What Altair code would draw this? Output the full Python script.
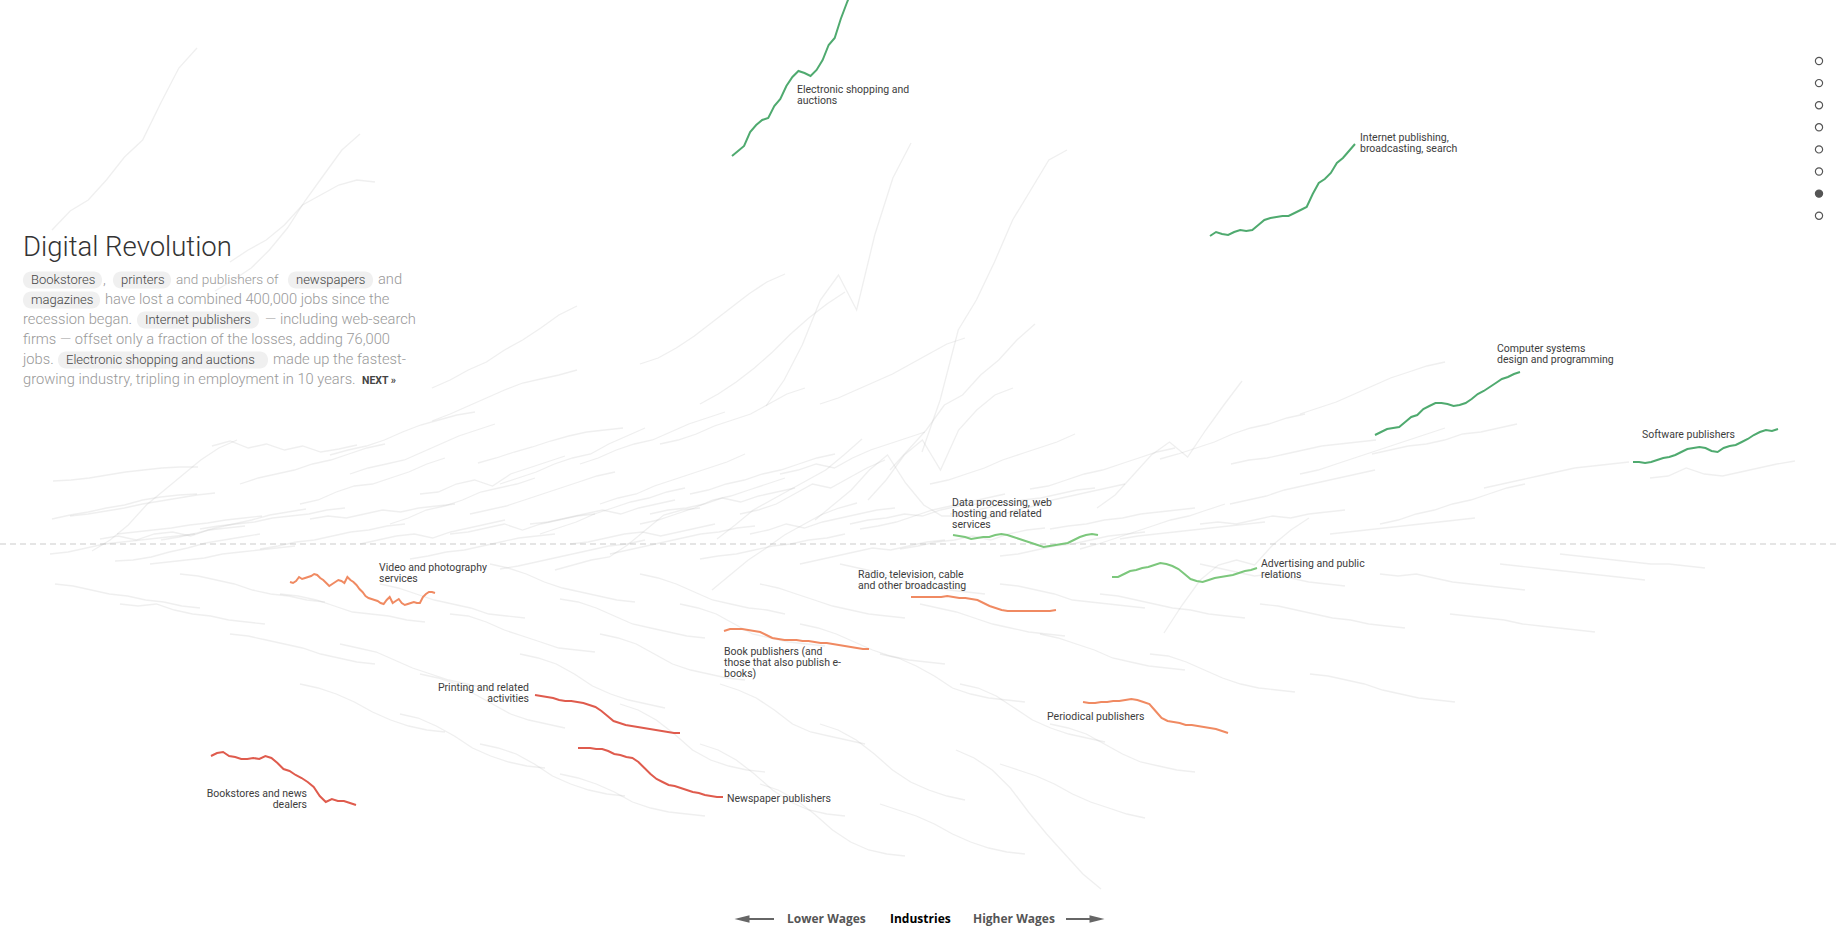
import altair as alt
import pandas as pd

# Each sparkline covers 2004-2014 and is drawn across a fixed stretch of the wage axis
SPAN = 145
W, H = 1839, 939
X_DOMAIN = [0, 1839]          # wage position (low -> high)
Y_DOMAIN = [-395, 544]        # employment change index (0 = dashed line)

# ---------------- highlighted industries (values = employment change index) ----------
electronic_shopping = [388, 393, 398, 412, 419, 424, 426, 438, 445, 458, 467, 473, 471,
                       468, 474, 484, 499, 506, 525, 541, 556, 569, 584, 596, 609]
internet_publishing = [308, 312, 310, 309, 312, 314, 313, 314, 319, 324, 326, 327, 328,
                       328, 331, 334, 337, 350, 361, 365, 371, 381, 386, 393, 400]
computer_systems = [109, 112, 115, 116, 117, 122, 127, 129, 135, 138, 141, 141, 140,
                    138, 139, 141, 145, 150, 153, 157, 161, 165, 167, 170, 172]
software_publishers = [82, 82, 81, 82, 84, 86, 87, 89, 92, 95, 96, 97, 96,
                       93, 92, 96, 98, 99, 102, 105, 109, 112, 114, 113, 115]
data_processing = [9, 8, 7, 5, 6, 7, 7, 9, 10, 9, 7, 5, 3, 1, -1, -3, -2, -1, 0, 1, 4, 7, 9, 10, 9]
advertising = [-33, -33, -30, -27, -26, -24, -23, -21, -19, -20, -22, -25, -30,
               -35, -37, -38, -36, -34, -33, -32, -31, -29, -27, -26, -24]
radio_tv = [-53, -53, -53, -53, -53, -53, -52, -53, -54, -54, -55, -56, -59,
            -62, -64, -66, -67, -67, -67, -67, -67, -67, -67, -67, -66]
video_photo = [-38, -39, -37, -33, -35, -34, -33, -32, -30, -31, -34, -36, -39, -42, -40, -38, -36,
               -37, -39, -33, -36, -38, -41, -45, -48, -52, -54, -55, -56, -57, -59, -60, -56,
               -53, -59, -57, -55, -59, -61, -60, -59, -58, -59, -59, -53, -50, -48, -48, -49]
book_publishers = [-87, -85, -85, -85, -86, -87, -88, -91, -94, -95, -96, -96, -96,
                   -97, -97, -98, -99, -99, -100, -101, -102, -103, -104, -105, -105]
printing = [-151, -152, -153, -154, -156, -157, -157, -158, -159, -161, -163, -167, -172,
            -177, -179, -181, -182, -183, -184, -185, -186, -187, -188, -189, -189]
newspapers = [-204, -204, -204, -205, -205, -207, -210, -211, -213, -214, -218, -224, -230,
              -235, -238, -241, -242, -244, -246, -248, -249, -251, -252, -253, -253]
bookstores = [-212, -209, -208, -212, -213, -215, -215, -214, -215, -212, -214, -219, -225,
              -227, -231, -234, -238, -243, -252, -258, -255, -257, -257, -259, -261]
periodicals = [-158, -159, -159, -158, -158, -157, -157, -156, -155, -156, -158, -160, -167,
               -174, -177, -178, -179, -181, -181, -182, -183, -184, -185, -187, -189]

highlight_names = ["Electronic shopping and auctions", "Internet publishing, broadcasting, search",
                   "Computer systems design and programming", "Software publishers",
                   "Data processing, web hosting and related services", "Advertising and public relations",
                   "Radio, television, cable and other broadcasting", "Video and photography services",
                   "Book publishers (and those that also publish e-books)", "Printing and related activities",
                   "Newspaper publishers", "Bookstores and news dealers", "Periodical publishers"]
highlight_wage = [732, 1210, 1375, 1633, 953, 1112, 911, 290, 724, 535, 578, 211, 1083]
highlight_series = [electronic_shopping, internet_publishing, computer_systems, software_publishers,
                    data_processing, advertising, radio_tv, video_photo, book_publishers, printing,
                    newspapers, bookstores, periodicals]
highlight_group = ["big gain", "big gain", "big gain", "big gain", "gain", "gain",
                   "loss", "loss", "loss", "big loss", "big loss", "big loss", "loss"]
label_lines = [["Electronic shopping and", "auctions"], ["Internet publishing,", "broadcasting, search"],
               ["Computer systems", "design and programming"], ["Software publishers"],
               ["Data processing, web", "hosting and related", "services"], ["Advertising and public", "relations"],
               ["Radio, television, cable", "and other broadcasting"], ["Video and photography", "services"],
               ["Book publishers (and", "those that also publish e-", "books)"], ["Printing and related", "activities"],
               ["Newspaper publishers"], ["Bookstores and news", "dealers"], ["Periodical publishers"]]
label_wage = [797, 1360, 1497, 1642, 952, 1261, 858, 379, 724, 529, 727, 307, 1047]
label_change = [454, 406, 195, 109, 41, -20, -31, -24, -108, -144, -255, -250, -173]
label_align = ["left"] * 9 + ["right", "left", "right", "left"]

# ---------------- other industries (grey) ----------------
grey_wage = [52, 215, 230, 432, 766, 922, 890, 868, 815, 1097, 1164, 717, 555, 712, 53, 70, 117, 52,
             92, 115, 161, 432, 478, 212, 330,
             240, 300, 350, 390, 420, 470, 500, 540, 580, 600, 640, 660, 690, 740, 780, 820, 860, 930,
             980, 1030, 1080, 1160, 1230, 1300, 1380, 1484, 1650, 1372, 1231,
             50, 100, 150, 200, 260, 310, 360, 410, 450, 500, 530, 570, 610, 650, 700, 750, 800, 850,
             900, 950, 1000, 1050, 1120, 1200, 1330,
             55, 120, 180, 230, 280, 340, 380, 420, 450, 490, 520, 560, 600, 640, 680, 720, 760, 800,
             840, 880, 920, 960, 1000, 1040, 1100, 1150, 1200, 1260, 1310, 1380, 1450, 1500, 1560,
             956, 1000, 880, 820, 1050, 620, 700, 400, 300, 480, 760, 560,
             640, 700, 1300]
grey_values = [
    [314, 333, 344, 364, 387, 404, 441, 476, 496], [253, 264, 276, 294, 316, 344, 369, 394, 410],
    [282, 294, 304, 319, 339, 349, 359, 364, 362], [156, 164, 174, 182, 194, 204, 216, 229, 238],
    [138, 164, 199, 244, 269, 234, 309, 366, 401], [92, 144, 214, 244, 282, 324, 354, 384, 394],
    [74, 94, 114, 139, 149, 169, 184, 204, 220], [44, 64, 89, 104, 74, 114, 134, 149, 156],
    [24, 39, 54, 74, 89, 61, 39, 28, 28], [36, 49, 69, 89, 102, 87, 114, 139, 163],
    [-89, -61, -36, -21, -16, -21, -1, 14, 26], [5, 19, 34, 44, 54, 64, 74, 89, 105],
    [-26, -21, -16, -13, -1, 14, 29, 34, 36], [-46, -31, -16, -4, 9, 19, 29, 36, 41],
    [63, 64, 66, 69, 72, 74, 76, 77, 77], [28, 30, 33, 36, 40, 43, 46, 49, 51],
    [10, 12, 14, 16, 19, 21, 24, 26, 28], [25, 29, 32, 36, 39, 44, 47, 49, 50],
    [-7, 4, 19, 39, 54, 69, 84, 96, 104], [-17, -16, -13, -8, -4, 1, 4, 7, 10],
    [4, 7, 11, 16, 20, 24, 29, 32, 35], [123, 130, 138, 146, 154, 161, 165, 169, 174],
    [81, 86, 92, 97, 103, 108, 112, 114, 116], [98, 103, 96, 100, 94, 98, 92, 95, 99],
    [89, 94, 98, 104, 112, 119, 124, 129, 132],
    [60, 66, 70, 74, 80, 84, 90, 96, 100], [40, 44, 52, 58, 60, 66, 72, 80, 86],
    [70, 76, 80, 84, 92, 100, 108, 114, 120], [20, 26, 34, 38, 44, 52, 56, 60, 66],
    [50, 52, 60, 64, 58, 70, 76, 82, 88], [30, 34, 38, 44, 50, 56, 62, 68, 72],
    [60, 66, 72, 80, 86, 90, 100, 108, 116], [10, 16, 22, 30, 36, 42, 46, 52, 56],
    [80, 86, 94, 100, 104, 112, 120, 126, 132], [40, 46, 50, 58, 64, 70, 76, 82, 90],
    [20, 24, 30, 36, 44, 48, 54, 60, 66], [100, 104, 110, 118, 124, 130, 140, 150, 156],
    [50, 54, 60, 64, 70, 74, 80, 86, 90], [30, 34, 40, 50, 60, 56, 66, 76, 84],
    [70, 74, 80, 76, 86, 94, 100, 106, 112], [140, 146, 154, 162, 170, 180, 190, 200, 206],
    [15, 18, 22, 28, 34, 38, 42, 46, 50], [60, 64, 70, 76, 84, 90, 96, 102, 110],
    [25, 28, 34, 38, 44, 48, 52, 56, 60], [55, 58, 64, 70, 74, 80, 86, 92, 96],
    [-5, 0, 6, 12, 18, 24, 28, 34, 40], [85, 90, 96, 102, 110, 116, 120, 126, 130],
    [40, 44, 48, 54, 58, 62, 66, 70, 74], [70, 74, 80, 86, 92, 98, 104, 110, 116],
    [20, 24, 30, 34, 40, 44, 50, 56, 60], [56, 60, 64, 68, 72, 76, 78, 80, 82],
    [66, 68, 76, 70, 68, 72, 76, 80, 83], [90, 94, 98, 100, 104, 110, 112, 116, 120],
    [80, 84, 86, 90, 94, 98, 100, 102, 104],
    [-10, -8, -4, 0, 2, 4, 6, 8, 10], [5, 8, 4, 10, 12, 8, 14, 16, 18],
    [-20, -18, -16, -14, -10, -8, -6, -4, -2], [15, 18, 20, 22, 26, 28, 30, 34, 36],
    [-5, -2, 2, 4, 8, 12, 14, 18, 20], [25, 28, 26, 30, 34, 32, 36, 38, 40],
    [0, 4, 8, 10, 6, 12, 16, 20, 24], [-15, -12, -8, -6, -2, 2, 6, 8, 10],
    [10, 12, 16, 20, 14, 20, 24, 28, 30], [-25, -22, -18, -14, -10, -6, -2, 0, 4],
    [20, 22, 26, 30, 34, 30, 36, 40, 44], [0, 2, 6, 10, 12, 8, 12, 16, 20],
    [-10, -6, -2, 2, 6, 10, 12, 16, 18], [30, 34, 36, 40, 46, 42, 48, 52, 56],
    [-15, -12, -10, -6, -2, 0, 4, 6, 10], [10, 14, 20, 16, 22, 26, 30, 34, 36],
    [-20, -16, -12, -8, -4, -6, -2, 2, 4], [20, 24, 26, 30, 28, 34, 38, 40, 44],
    [-5, -2, 2, 4, 8, 4, 10, 14, 16], [30, 32, 36, 40, 44, 46, 50, 54, 56],
    [-12, -10, -6, -2, 0, 4, 8, 10, 12], [15, 18, 20, 24, 26, 30, 32, 34, 36],
    [5, 8, 10, 12, 14, 16, 18, 20, 22], [20, 22, 20, 24, 28, 26, 30, 32, 34],
    [10, 12, 14, 16, 18, 20, 22, 24, 26],
    [-40, -42, -46, -50, -52, -56, -58, -62, -64], [-60, -62, -60, -66, -70, -72, -76, -78, -80],
    [-30, -32, -36, -40, -46, -50, -52, -56, -58], [-90, -92, -96, -100, -104, -110, -114, -118, -120],
    [-50, -52, -56, -62, -68, -70, -72, -76, -78], [-100, -104, -108, -116, -124, -130, -136, -140, -144],
    [-40, -44, -50, -56, -60, -64, -70, -72, -74], [-130, -134, -140, -150, -160, -170, -176, -180, -184],
    [-70, -72, -78, -86, -92, -98, -104, -106, -108], [-20, -24, -30, -38, -44, -48, -52, -56, -58],
    [-110, -114, -120, -130, -142, -150, -156, -160, -164], [-55, -58, -64, -72, -80, -84, -88, -92, -94],
    [-90, -94, -100, -110, -120, -126, -130, -134, -136], [-30, -34, -40, -48, -56, -60, -64, -66, -70],
    [-60, -64, -70, -80, -90, -94, -98, -100, -102], [-140, -146, -154, -166, -180, -188, -192, -196, -200],
    [-40, -44, -50, -56, -62, -66, -70, -72, -74], [-80, -84, -90, -98, -106, -112, -116, -118, -120],
    [-20, -24, -28, -34, -40, -42, -46, -48, -50], [-110, -114, -122, -132, -144, -150, -154, -156, -158],
    [-60, -64, -68, -74, -80, -84, -88, -90, -92], [-140, -144, -152, -164, -176, -184, -190, -194, -198],
    [-40, -42, -46, -50, -56, -58, -60, -62, -64], [-90, -94, -100, -106, -114, -118, -122, -124, -126],
    [-50, -52, -56, -60, -64, -66, -70, -72, -74], [-110, -112, -118, -126, -134, -140, -144, -146, -148],
    [-20, -24, -28, -32, -30, -34, -38, -40, -42], [-60, -62, -66, -70, -74, -76, -80, -82, -84],
    [-130, -132, -136, -140, -146, -150, -154, -156, -158], [-30, -32, -30, -34, -38, -40, -42, -44, -46],
    [-70, -72, -74, -76, -80, -82, -84, -86, -88], [-20, -22, -24, -26, -28, -30, -32, -34, -36],
    [-10, -12, -14, -16, -18, -20, -20, -22, -24],
    [-206, -214, -226, -244, -268, -290, -310, -330, -345], [-220, -226, -232, -240, -250, -258, -264, -270, -274],
    [-260, -266, -272, -280, -290, -298, -304, -308, -310], [-180, -186, -196, -210, -226, -238, -246, -252, -256],
    [-180, -184, -190, -200, -210, -218, -222, -226, -228], [-160, -166, -176, -190, -206, -216, -222, -226, -228],
    [-200, -206, -216, -230, -246, -258, -266, -270, -272], [-170, -174, -182, -192, -204, -212, -218, -222, -224],
    [-140, -144, -150, -158, -168, -176, -182, -186, -188], [-200, -204, -210, -220, -232, -240, -246, -250, -252],
    [-240, -246, -256, -270, -286, -298, -306, -310, -312], [-230, -234, -240, -248, -258, -264, -268, -270, -272],
    [180, 186, 196, 208, 222, 236, 250, 262, 270], [140, 150, 162, 176, 192, 210, 226, 240, 252],
    [130, 136, 142, 150, 158, 166, 172, 178, 182],
]

# ---------------- story text ----------------
title_text = "Digital Revolution"
story_plain = [  # (line, start, text, font size)
    (0, 103, ",", 14.7), (0, 176, "and publishers of", 13.6), (0, 378, "and", 14.7),
    (1, 105, "have lost a combined 400,000 jobs since the", 14.7),
    (2, 23, "recession began.", 14.7), (2, 265, "— including web-search", 14.7),
    (3, 23, "firms — offset only a fraction of the losses, adding 76,000", 14.7),
    (4, 23, "jobs.", 14.7), (4, 273, "made up the fastest-", 14.7),
    (5, 23, "growing industry, tripling in employment in 10 years.", 14.7),
]
story_pills = [  # (line, left, right, text)
    (0, 23, 102, "Bookstores"), (0, 113, 171, "printers"), (0, 288, 373, "newspapers"),
    (1, 23, 100, "magazines"), (2, 137, 259, "Internet publishers"),
    (4, 58, 268, "Electronic shopping and auctions"),
]
nav_labels = ["Lower Wages", "Industries", "Higher Wages"]
n_steps = 8
current_step = 6

# ================= build tables =================
rows = []
for i, (x0, vals) in enumerate(zip(grey_wage, grey_values)):
    n = len(vals)
    for j, v in enumerate(vals):
        rows.append({"id": f"g{i}", "step": j, "wage": x0 + SPAN * j / (n - 1), "change": v})
grey_df = pd.DataFrame(rows)

rows = []
for name, x0, vals, grp in zip(highlight_names, highlight_wage, highlight_series, highlight_group):
    n = len(vals)
    for j, v in enumerate(vals):
        rows.append({"name": name, "step": j, "wage": x0 + SPAN * j / (n - 1), "change": v, "group": grp})
hi_df = pd.DataFrame(rows)

LABEL_LEAD = 11
rows = []
for lines, lx, ly, al in zip(label_lines, label_wage, label_change, label_align):
    for k, t in enumerate(lines):
        rows.append({"wage": lx, "change": ly - k * LABEL_LEAD, "text": t, "align": al})
lab_df = pd.DataFrame(rows)

xs = alt.Scale(domain=X_DOMAIN, nice=False, zero=False)
ys = alt.Scale(domain=Y_DOMAIN, nice=False, zero=False)

zero = alt.Chart(pd.DataFrame({"change": [0]})).mark_rule(
    color="#dddddd", strokeWidth=1.5, strokeDash=[6, 4]
).encode(y=alt.Y("change:Q", scale=ys, axis=None), x=alt.value(0), x2=alt.value(W))

grey = alt.Chart(grey_df).mark_line(color="#bdbdbd", opacity=0.24, strokeWidth=1.3, clip=True).encode(
    x=alt.X("wage:Q", scale=xs, axis=None),
    y=alt.Y("change:Q", scale=ys, axis=None),
    detail="id:N", order="step:Q")

hi = alt.Chart(hi_df).mark_line(strokeWidth=2, clip=True).encode(
    x=alt.X("wage:Q", scale=xs, axis=None),
    y=alt.Y("change:Q", scale=ys, axis=None),
    detail="name:N", order="step:Q",
    color=alt.Color("group:N", legend=None, scale=alt.Scale(
        domain=["big gain", "gain", "loss", "big loss"],
        range=["#4faa6f", "#7cc77c", "#f08a62", "#df5b4d"])))

def labels(align):
    return alt.Chart(lab_df[lab_df["align"] == align]).mark_text(
        align=align, baseline="middle", font="Roboto", fontSize=10.5, color="#3d3d3d"
    ).encode(x=alt.X("wage:Q", scale=xs, axis=None), y=alt.Y("change:Q", scale=ys, axis=None), text="text:N")

# story panel (page layout, in pixels)
LINE0, LEAD = 280, 20
title = alt.Chart(pd.DataFrame({"px": [23], "py": [256], "t": [title_text]})).mark_text(
    align="left", baseline="alphabetic", font="Roboto", fontWeight=300, fontSize=27.5, color="#333333"
).encode(x=alt.X("px:Q", scale=None), y=alt.Y("py:Q", scale=None), text="t:N")

pill_df = pd.DataFrame([{"x1": a, "x2": b, "y1": LINE0 + l * LEAD - 8.5, "y2": LINE0 + l * LEAD + 8.5,
                         "tx": a + 8, "ty": LINE0 + l * LEAD, "t": t} for l, a, b, t in story_pills])
pills = alt.Chart(pill_df).mark_rect(color="#f0f0f0", cornerRadius=8).encode(
    x=alt.X("x1:Q", scale=None), x2="x2:Q", y=alt.Y("y1:Q", scale=None), y2="y2:Q")
pill_txt = alt.Chart(pill_df).mark_text(
    align="left", baseline="middle", font="Roboto", fontWeight=300, fontSize=13, color="#444444"
).encode(x=alt.X("tx:Q", scale=None), y=alt.Y("ty:Q", scale=None), text="t:N")

plain_df = pd.DataFrame([{"px": x, "py": LINE0 + l * LEAD, "t": t, "fs": fs} for l, x, t, fs in story_plain])
plain = alt.Chart(plain_df).mark_text(
    align="left", baseline="middle", font="Roboto", fontWeight=300, color="#999999"
).encode(x=alt.X("px:Q", scale=None), y=alt.Y("py:Q", scale=None), text="t:N",
         size=alt.Size("fs:Q", scale=None))
nxt = alt.Chart(pd.DataFrame({"px": [362], "py": [LINE0 + 5 * LEAD + 1], "t": ["NEXT »"]})).mark_text(
    align="left", baseline="middle", font="Roboto", fontWeight="bold", fontSize=10.5, color="#444444"
).encode(x=alt.X("px:Q", scale=None), y=alt.Y("py:Q", scale=None), text="t:N")

# step dots
dots_df = pd.DataFrame({"px": [1819] * n_steps, "py": [61 + 22.1 * k for k in range(n_steps)],
                        "cur": [k == current_step for k in range(n_steps)]})
dots = alt.Chart(dots_df).mark_point(shape="circle", size=52, strokeWidth=1.2, stroke="#555555").encode(
    x=alt.X("px:Q", scale=None), y=alt.Y("py:Q", scale=None),
    fill=alt.condition("datum.cur", alt.value("#555555"), alt.value("white")), opacity=alt.value(1))

# bottom wage axis
NAV_Y = 919
nav_df = pd.DataFrame({"px": [787, 890, 973], "py": [NAV_Y] * 3, "t": nav_labels,
                       "c": ["#555555", "#000000", "#555555"]})
nav = alt.Chart(nav_df).mark_text(align="left", baseline="middle", font="Open Sans", fontWeight="bold",
                                  fontSize=12).encode(
    x=alt.X("px:Q", scale=None), y=alt.Y("py:Q", scale=None), text="t:N",
    color=alt.Color("c:N", scale=None))
shafts = alt.Chart(pd.DataFrame({"a": [745, 1066], "b": [774, 1093], "py": [NAV_Y, NAV_Y]})).mark_rule(
    color="#666666", strokeWidth=2).encode(x=alt.X("a:Q", scale=None), x2="b:Q", y=alt.Y("py:Q", scale=None))
head_l = alt.Chart(pd.DataFrame({"px": [742], "py": [NAV_Y]})).mark_point(
    shape="M1,-0.5L-1,0L1,0.5Z", size=225, filled=True, color="#666666", opacity=1
).encode(x=alt.X("px:Q", scale=None), y=alt.Y("py:Q", scale=None))
head_r = alt.Chart(pd.DataFrame({"px": [1097], "py": [NAV_Y]})).mark_point(
    shape="M-1,-0.5L1,0L-1,0.5Z", size=225, filled=True, color="#666666", opacity=1
).encode(x=alt.X("px:Q", scale=None), y=alt.Y("py:Q", scale=None))

chart = alt.layer(
    zero, grey, hi, labels("left"), labels("right"),
    pills, pill_txt, plain, nxt, title, dots, nav, shafts, head_l, head_r
).properties(
    width=W, height=H, autosize=alt.AutoSizeParams(type="none"), padding=0, background="white"
).configure_view(stroke=None)

chart.save("out.html", embed_options={"renderer": "svg", "actions": False})
